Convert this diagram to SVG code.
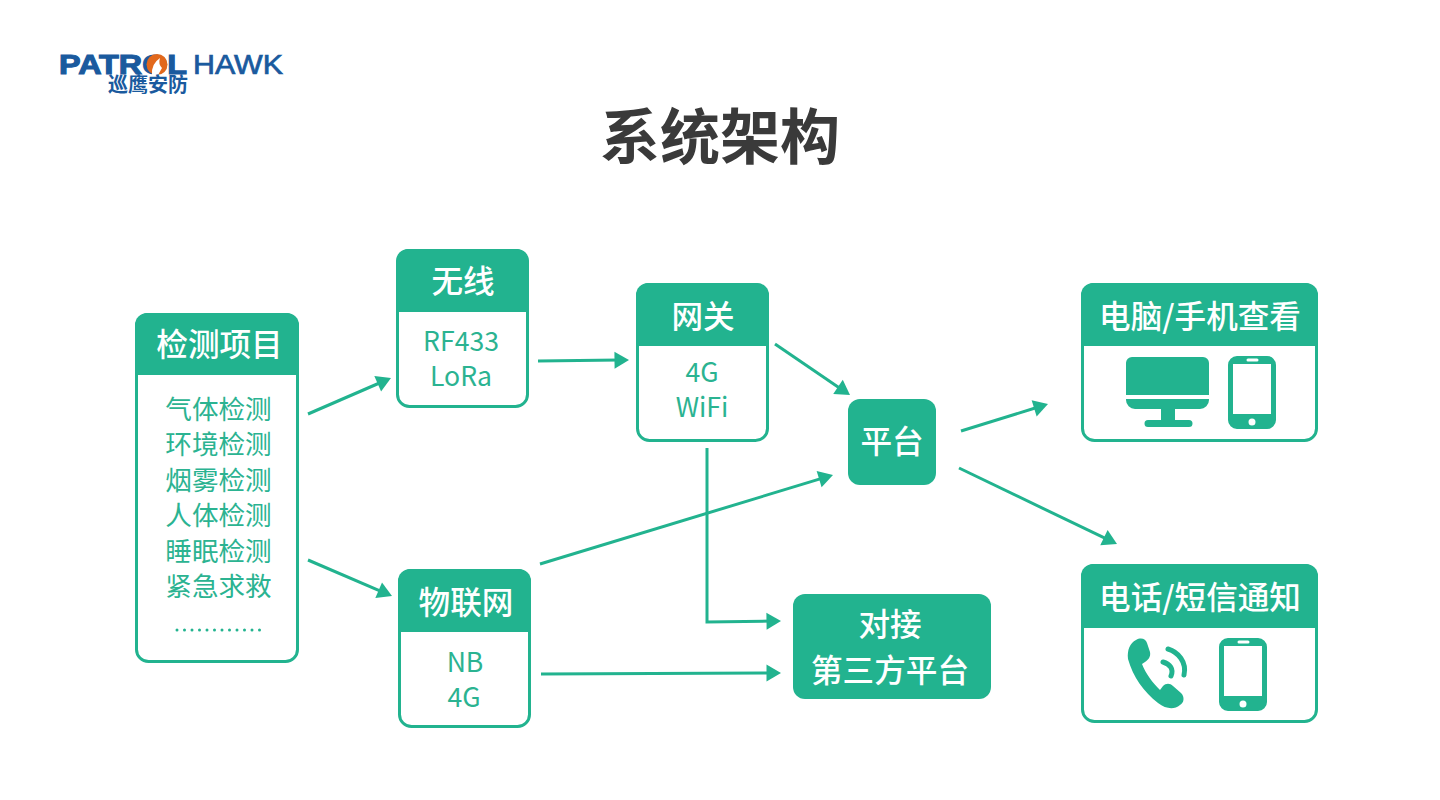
<svg xmlns="http://www.w3.org/2000/svg" width="1440" height="800" viewBox="0 0 1440 800">
<style>
.t{font-family:"Noto Sans CJK SC","Noto Sans",sans-serif;text-anchor:middle}
.head{font-size:31.6px;fill:#fff;font-weight:500}
.body{font-size:26.6px;fill:#2bb391}
.frame{fill:#fff;stroke:#22b38f;stroke-width:3}
.fill{fill:#22b38f}
.line{fill:none;stroke:#22b38f;stroke-width:3}
.logo{font-family:"Liberation Sans",sans-serif;fill:#1a5a9e;stroke:#1a5a9e}
</style>
<defs>
<polygon id="tip" class="fill" points="0,0 -14.500,-8.500 -14.500,8.500"/>
<g id="phone"><path class="fill" fill-rule="evenodd" d="M9 0H39A9 9 0 0 1 48 9V64A9 9 0 0 1 39 73H9A9 9 0 0 1 0 64V9A9 9 0 0 1 9 0ZM5 8V58H43V8ZM20 2.500A1.500 1.500 0 0 0 20 5.500H29A1.500 1.500 0 0 0 29 2.500ZM24 62.500A3.500 3.500 0 1 0 24 69.500A3.500 3.500 0 1 0 24 62.500Z"/></g>
</defs>
<rect width="1440" height="800" fill="#fff"/>

<g id="logo">
<text class="logo" x="59" y="74" font-size="27" font-weight="700" stroke-width="1.100" textLength="128" lengthAdjust="spacingAndGlyphs">PATROL</text>
<circle cx="157" cy="64.500" r="10.500" fill="#e2681c"/>
<path d="M152 75Q151 64 160 58Q158 64 162 68L158 75z" fill="#fff"/>
<text class="logo" x="193" y="74" font-size="27" stroke-width="0.700" textLength="90" lengthAdjust="spacingAndGlyphs">HAWK</text>
<text x="148" y="92" font-family="'Noto Sans CJK SC',sans-serif" font-size="20" font-weight="700" fill="#1a5a9e" text-anchor="middle">巡鹰安防</text>
</g>

<text id="title" class="t" x="720" y="159" font-size="60" font-weight="700" fill="#3a3a3a">系统架构</text>

<g id="connectors">
<path class="line" d="M308 414L381.800 382"/><use href="#tip" transform="translate(391 378) rotate(-23.400)"/>
<path class="line" d="M538 361L619 360.100"/><use href="#tip" transform="translate(629 360) rotate(-0.600)"/>
<path class="line" d="M775 344L841.700 389.400"/><use href="#tip" transform="translate(850 395) rotate(34.200)"/>
<path class="line" d="M308 560L382.800 592.100"/><use href="#tip" transform="translate(392 596) rotate(23.200)"/>
<path class="line" d="M540 564L823.400 477.900"/><use href="#tip" transform="translate(833 475) rotate(-16.900)"/>
<path class="line" d="M707 448V622L771 621.100"/><use href="#tip" transform="translate(781 621) rotate(-0.800)"/>
<path class="line" d="M541 674L771 673"/><use href="#tip" transform="translate(781 673) rotate(-0.200)"/>
<path class="line" d="M961 431L1038.400 407"/><use href="#tip" transform="translate(1048 404) rotate(-17.200)"/>
<path class="line" d="M959 468L1108 539.700"/><use href="#tip" transform="translate(1117 544) rotate(25.700)"/>
</g>

<g id="detect">
<rect class="frame" x="136.500" y="314.500" width="161" height="347" rx="12"/>
<path class="fill" d="M147 313H287A12 12 0 0 1 299 325V375H135V325A12 12 0 0 1 147 313Z"/>
<text class="t head" x="219.500" y="356">检测项目</text>
<g class="t body">
<text x="218.500" y="419">气体检测</text>
<text x="218.500" y="454">环境检测</text>
<text x="218.500" y="490">烟雾检测</text>
<text x="218.500" y="525">人体检测</text>
<text x="218.500" y="561">睡眠检测</text>
<text x="218.500" y="596">紧急求救</text>
</g>
<g class="fill"><circle cx="177" cy="630" r="1.500"/><circle cx="184.500" cy="630" r="1.500"/><circle cx="192" cy="630" r="1.500"/><circle cx="199.500" cy="630" r="1.500"/><circle cx="207" cy="630" r="1.500"/><circle cx="214.500" cy="630" r="1.500"/><circle cx="222" cy="630" r="1.500"/><circle cx="229.500" cy="630" r="1.500"/><circle cx="237" cy="630" r="1.500"/><circle cx="244.500" cy="630" r="1.500"/><circle cx="252" cy="630" r="1.500"/><circle cx="259.500" cy="630" r="1.500"/></g>
</g>

<g id="wireless">
<rect class="frame" x="397.500" y="250.500" width="130" height="156" rx="12"/>
<path class="fill" d="M408 249H517A12 12 0 0 1 529 261V312H396V261A12 12 0 0 1 408 249Z"/>
<text class="t head" x="463" y="293">无线</text>
<text class="t body" x="461" y="351">RF433</text>
<text class="t body" x="461" y="386">LoRa</text>
</g>

<g id="gateway">
<rect class="frame" x="637.500" y="284.500" width="130" height="156" rx="12"/>
<path class="fill" d="M648 283H757A12 12 0 0 1 769 295V346H636V295A12 12 0 0 1 648 283Z"/>
<text class="t head" x="703" y="328">网关</text>
<text class="t body" x="702" y="382">4G</text>
<text class="t body" x="702" y="417">WiFi</text>
</g>

<g id="platform">
<rect class="fill" x="848" y="399" width="88" height="86" rx="12"/>
<text class="t head" x="892" y="453">平台</text>
</g>

<g id="iot">
<rect class="frame" x="399.500" y="570.500" width="130" height="156" rx="12"/>
<path class="fill" d="M410 569H519A12 12 0 0 1 531 581V632H398V581A12 12 0 0 1 410 569Z"/>
<text class="t head" x="466" y="614">物联网</text>
<text class="t body" x="465" y="672">NB</text>
<text class="t body" x="464" y="707">4G</text>
</g>

<g id="third-party">
<rect class="fill" x="793" y="594" width="198" height="105" rx="12"/>
<text class="t head" x="890" y="636">对接</text>
<text class="t head" x="890" y="682">第三方平台</text>
</g>

<g id="pc-mobile">
<rect class="frame" x="1082.500" y="284.500" width="234" height="156" rx="12"/>
<path class="fill" d="M1093 283H1306A12 12 0 0 1 1318 295V346H1081V295A12 12 0 0 1 1093 283Z"/>
<text class="t head" x="1200" y="328">电脑/手机查看</text>
<path class="fill" d="M1132 357H1203A6 6 0 0 1 1209 363V395H1126V363A6 6 0 0 1 1132 357ZM1126 399H1209V400A9 9 0 0 1 1200 409H1175V420H1189A3.500 3.500 0 0 1 1189 427H1148A3.500 3.500 0 0 1 1148 420H1161V409H1135A9 9 0 0 1 1126 400Z"/>
<use href="#phone" x="1228" y="356"/>
</g>

<g id="call-sms">
<rect class="frame" x="1082.500" y="565.500" width="234" height="156" rx="12"/>
<path class="fill" d="M1093 564H1306A12 12 0 0 1 1318 576V628H1081V576A12 12 0 0 1 1093 564Z"/>
<text class="t head" x="1200" y="609">电话/短信通知</text>
<path class="fill" d="M1136 640C1141 637 1146 639 1147 643L1150 652C1151 657 1148 660 1145 662L1142 664C1146 674 1152 682 1160 690L1163 686C1166 683 1170 683 1173 686L1181 693C1185 697 1184 703 1180 705C1174 710 1166 709 1158 703C1144 692 1133 677 1128 659C1127 650 1130 643 1136 640Z"/>
<path class="line" stroke-linecap="round" style="stroke-width:5" d="M1168 649C1178 652 1187 662 1184 675M1163 662C1170 664 1174 669 1171 676"/>
<use href="#phone" x="1219" y="638"/>
</g>
</svg>
